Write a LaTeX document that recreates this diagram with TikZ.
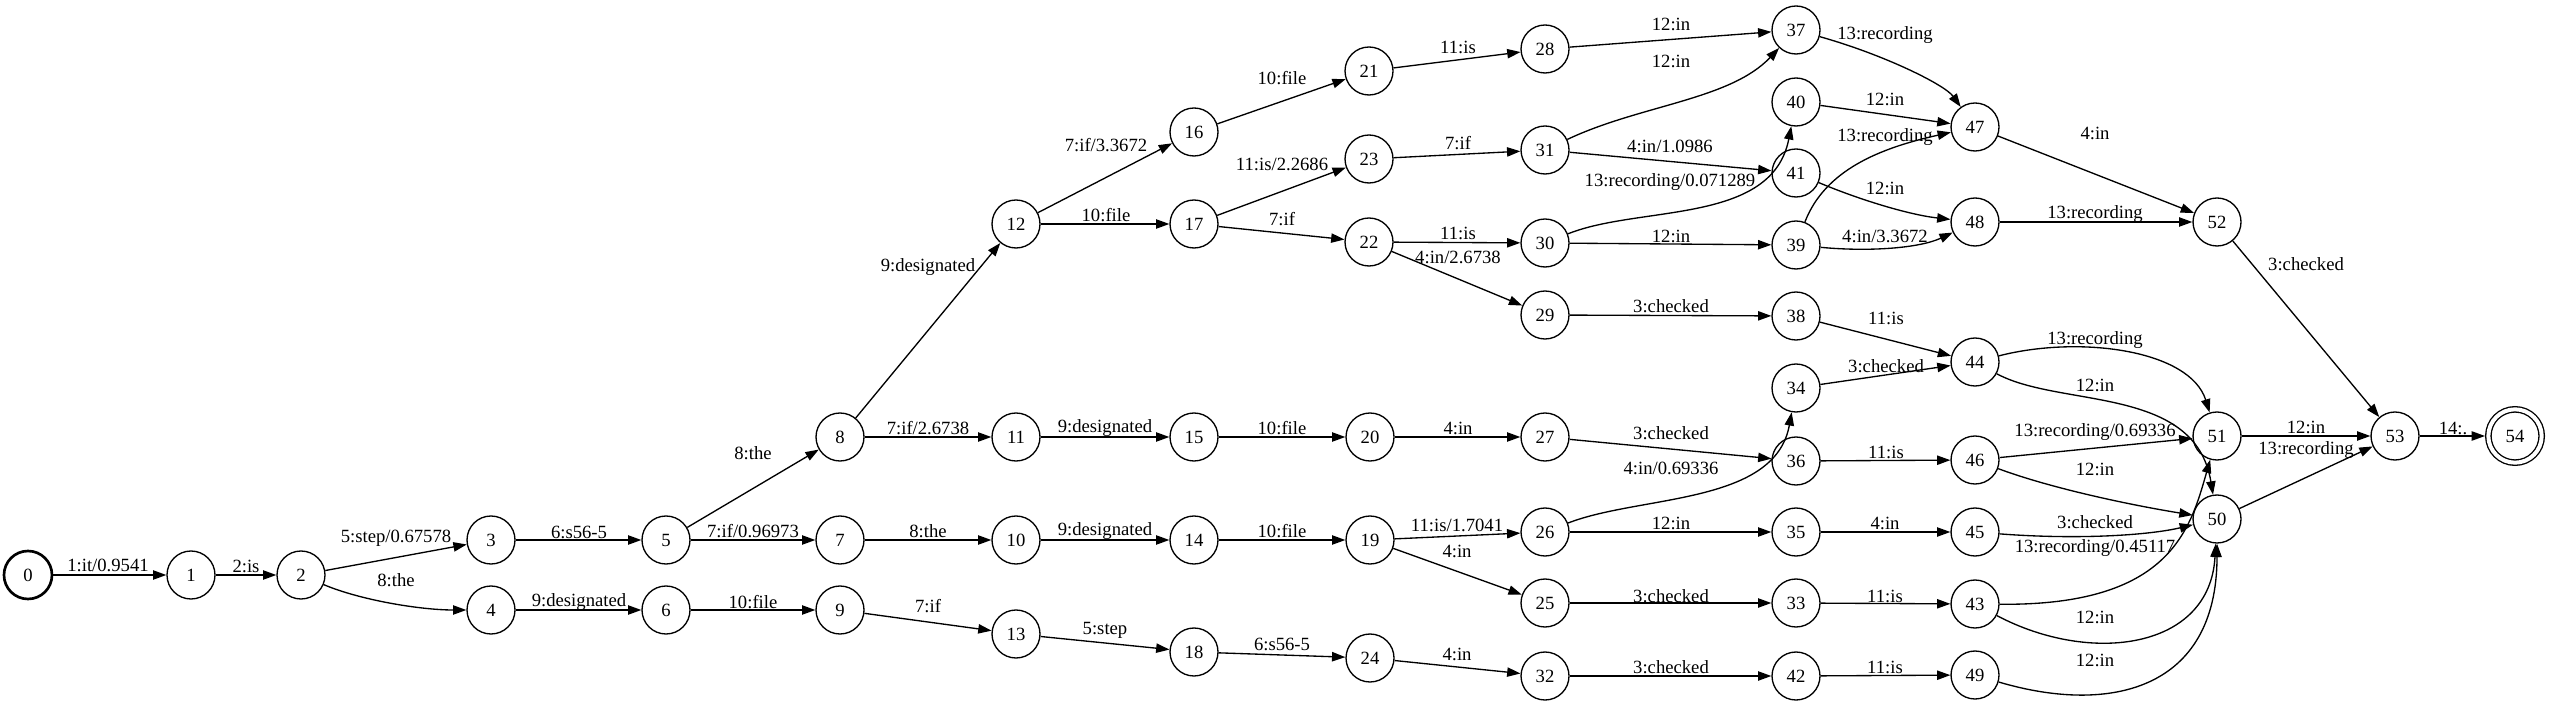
\documentclass[tikz,border=0pt]{standalone}
\usepackage{fontspec}
\setmainfont{Liberation Serif}
\usetikzlibrary{arrows.meta}

\begin{document}
\begin{tikzpicture}[x=0.75pt,y=-0.75pt,
  state/.style={circle,draw,line width=1pt,minimum size=36pt,inner sep=0pt,font=\fontsize{14}{16}\selectfont},
  firststate/.style={state,line width=2pt},
  laststate/.style={state,double,double distance=3pt,minimum size=40pt,outer sep=2.5pt},
  edge/.style={line width=1pt,-{Triangle[length=10pt,width=7pt]}},
  lbl/.style={inner sep=0pt,font=\fontsize{14}{16}\selectfont}]
  \useasboundingbox (0,0) rectangle (2550,705);
  % states
  \node[firststate] (s0) at (28,575) {0};
  \node[state] (s1) at (191,575) {1};
  \node[state] (s2) at (301,575) {2};
  \node[state] (s3) at (491,540) {3};
  \node[state] (s4) at (491,610) {4};
  \node[state] (s5) at (666,540) {5};
  \node[state] (s6) at (666,610) {6};
  \node[state] (s7) at (840,540) {7};
  \node[state] (s8) at (840,437) {8};
  \node[state] (s9) at (840,610) {9};
  \node[state] (s10) at (1016,540) {10};
  \node[state] (s11) at (1016,437) {11};
  \node[state] (s12) at (1016,224) {12};
  \node[state] (s13) at (1016,634) {13};
  \node[state] (s14) at (1194,540) {14};
  \node[state] (s15) at (1194,437) {15};
  \node[state] (s16) at (1194,132) {16};
  \node[state] (s17) at (1194,224) {17};
  \node[state] (s18) at (1194,652) {18};
  \node[state] (s19) at (1370,540) {19};
  \node[state] (s20) at (1370,437) {20};
  \node[state] (s21) at (1369,71) {21};
  \node[state] (s22) at (1369,242) {22};
  \node[state] (s23) at (1369,159) {23};
  \node[state] (s24) at (1370,658) {24};
  \node[state] (s25) at (1545,603) {25};
  \node[state] (s26) at (1545,532) {26};
  \node[state] (s27) at (1545,437) {27};
  \node[state] (s28) at (1545,49) {28};
  \node[state] (s29) at (1545,315) {29};
  \node[state] (s30) at (1545,243) {30};
  \node[state] (s31) at (1545,150) {31};
  \node[state] (s32) at (1545,676) {32};
  \node[state] (s33) at (1796,603) {33};
  \node[state] (s34) at (1796,388) {34};
  \node[state] (s35) at (1796,532) {35};
  \node[state] (s36) at (1796,461) {36};
  \node[state] (s37) at (1796,30) {37};
  \node[state] (s38) at (1796,316) {38};
  \node[state] (s39) at (1796,245) {39};
  \node[state] (s40) at (1796,102) {40};
  \node[state] (s41) at (1796,173) {41};
  \node[state] (s42) at (1796,676) {42};
  \node[state] (s43) at (1975,604) {43};
  \node[state] (s44) at (1975,362) {44};
  \node[state] (s45) at (1975,532) {45};
  \node[state] (s46) at (1975,460) {46};
  \node[state] (s47) at (1975,127) {47};
  \node[state] (s48) at (1975,222) {48};
  \node[state] (s49) at (1975,675) {49};
  \node[state] (s50) at (2217,519) {50};
  \node[state] (s51) at (2217,436) {51};
  \node[state] (s52) at (2217,222) {52};
  \node[state] (s53) at (2395,436) {53};
  \node[laststate] (s54) at (2515,436) {54};
  % arcs
  \draw[edge] (s0) -- (s1) node[lbl] (l0-1) at (108,565) {1:it/0.9541};
  \draw[edge] (s1) -- (s2) node[lbl] (l1-2) at (246,566) {2:is};
  \draw[edge] (s2) -- (s3) node[lbl] (l2-3) at (396,538) {5:step/0.67578};
  \draw[edge] (s2) .. controls (360,600) and (420,610) .. (s4) node[lbl] (l2-4) at (396,580) {8:the};
  \draw[edge] (s3) -- (s5) node[lbl] (l3-5) at (579,532) {6:s56-5};
  \draw[edge] (s4) -- (s6) node[lbl] (l4-6) at (579,602) {9:designated};
  \draw[edge] (s5) -- (s8) node[lbl] (l5-8) at (753,453) {8:the};
  \draw[edge] (s5) -- (s7) node[lbl] (l5-7) at (753,531) {7:if/0.96973};
  \draw[edge] (s6) -- (s9) node[lbl] (l6-9) at (753,602) {10:file};
  \draw[edge] (s7) -- (s10) node[lbl] (l7-10) at (928,531) {8:the};
  \draw[edge] (s8) -- (s12) node[lbl] (l8-12) at (928,267) {9:designated};
  \draw[edge] (s8) -- (s11) node[lbl] (l8-11) at (928,428) {7:if/2.6738};
  \draw[edge] (s9) -- (s13) node[lbl] (l9-13) at (928,606) {7:if};
  \draw[edge] (s10) -- (s14) node[lbl] (l10-14) at (1105,531) {9:designated};
  \draw[edge] (s11) -- (s15) node[lbl] (l11-15) at (1105,428) {9:designated};
  \draw[edge] (s12) -- (s16) node[lbl] (l12-16) at (1106,145) {7:if/3.3672};
  \draw[edge] (s12) -- (s17) node[lbl] (l12-17) at (1106,215) {10:file};
  \draw[edge] (s13) -- (s18) node[lbl] (l13-18) at (1105,630) {5:step};
  \draw[edge] (s14) -- (s19) node[lbl] (l14-19) at (1282,531) {10:file};
  \draw[edge] (s15) -- (s20) node[lbl] (l15-20) at (1282,428) {10:file};
  \draw[edge] (s16) -- (s21) node[lbl] (l16-21) at (1282,78) {10:file};
  \draw[edge] (s17) -- (s23) node[lbl] (l17-23) at (1282,164) {11:is/2.2686};
  \draw[edge] (s17) -- (s22) node[lbl] (l17-22) at (1282,219) {7:if};
  \draw[edge] (s18) -- (s24) node[lbl] (l18-24) at (1282,644) {6:s56-5};
  \draw[edge] (s19) -- (s26) node[lbl] (l19-26) at (1457,525) {11:is/1.7041};
  \draw[edge] (s19) -- (s25) node[lbl] (l19-25) at (1457,551) {4:in};
  \draw[edge] (s20) -- (s27) node[lbl] (l20-27) at (1458,428) {4:in};
  \draw[edge] (s21) -- (s28) node[lbl] (l21-28) at (1458,47) {11:is};
  \draw[edge] (s22) -- (s30) node[lbl] (l22-30) at (1458,233) {11:is};
  \draw[edge] (s22) -- (s29) node[lbl] (l22-29) at (1458,257) {4:in/2.6738};
  \draw[edge] (s23) -- (s31) node[lbl] (l23-31) at (1458,143) {7:if};
  \draw[edge] (s24) -- (s32) node[lbl] (l24-32) at (1457,654) {4:in};
  \draw[edge] (s25) -- (s33) node[lbl] (l25-33) at (1671,596) {3:checked};
  \draw[edge] (s26) .. controls (1640,495) and (1775,505) .. (s34) node[lbl] (l26-34) at (1671,468) {4:in/0.69336};
  \draw[edge] (s26) -- (s35) node[lbl] (l26-35) at (1671,523) {12:in};
  \draw[edge] (s27) -- (s36) node[lbl] (l27-36) at (1671,433) {3:checked};
  \draw[edge] (s28) -- (s37) node[lbl] (l28-37) at (1671,24) {12:in};
  \draw[edge] (s29) -- (s38) node[lbl] (l29-38) at (1671,306) {3:checked};
  \draw[edge] (s30) .. controls (1640,205) and (1772,225) .. (s40) node[lbl] (l30-40) at (1670,182) {13:recording/0.071289};
  \draw[edge] (s30) -- (s39) node[lbl] (l30-39) at (1671,236) {12:in};
  \draw[edge] (s31) .. controls (1640,105) and (1730,100) .. (s37) node[lbl] (l31-37) at (1671,61) {12:in};
  \draw[edge] (s31) -- (s41) node[lbl] (l31-41) at (1670,146) {4:in/1.0986};
  \draw[edge] (s32) -- (s42) node[lbl] (l32-42) at (1671,667) {3:checked};
  \draw[edge] (s33) -- (s43) node[lbl] (l33-43) at (1885,596) {11:is};
  \draw[edge] (s34) -- (s44) node[lbl] (l34-44) at (1886,366) {3:checked};
  \draw[edge] (s35) -- (s45) node[lbl] (l35-45) at (1885,523) {4:in};
  \draw[edge] (s36) -- (s46) node[lbl] (l36-46) at (1886,452) {11:is};
  \draw[edge] (s37) .. controls (1885,55) and (1945,85) .. (s47) node[lbl] (l37-47) at (1885,35) {13:recording};
  \draw[edge] (s38) -- (s44) node[lbl] (l38-44) at (1886,318) {11:is};
  \draw[edge] (s39) .. controls (1825,170) and (1880,148) .. (s47) node[lbl] (l39-47) at (1885,137) {13:recording};
  \draw[edge] (s39) .. controls (1870,252) and (1920,248) .. (s48) node[lbl] (l39-48) at (1885,236) {4:in/3.3672};
  \draw[edge] (s40) -- (s47) node[lbl] (l40-47) at (1885,99) {12:in};
  \draw[edge] (s41) .. controls (1860,200) and (1910,215) .. (s48) node[lbl] (l41-48) at (1885,188) {12:in};
  \draw[edge] (s42) -- (s49) node[lbl] (l42-49) at (1885,667) {11:is};
  \draw[edge] (s43) .. controls (2170,606) and (2190,530) .. (s51) node[lbl] (l43-51) at (2095,548) {13:recording/0.45117};
  \draw[edge] (s43) .. controls (2090,665) and (2210,650) .. (s50) node[lbl] (l43-50) at (2095,617) {12:in};
  \draw[edge] (s44) .. controls (2080,335) and (2190,350) .. (s51) node[lbl] (l44-51) at (2095,340) {13:recording};
  \draw[edge] (s44) .. controls (2060,408) and (2195,385) .. (s50) node[lbl] (l44-50) at (2095,385) {12:in};
  \draw[edge] (s45) .. controls (2080,540) and (2150,535) .. (s50) node[lbl] (l45-50) at (2095,522) {3:checked};
  \draw[edge] (s46) -- (s51) node[lbl] (l46-51) at (2095,432) {13:recording/0.69336};
  \draw[edge] (s46) .. controls (2050,488) and (2130,505) .. (s50) node[lbl] (l46-50) at (2095,469) {12:in};
  \draw[edge] (s47) -- (s52) node[lbl] (l47-52) at (2095,133) {4:in};
  \draw[edge] (s48) -- (s52) node[lbl] (l48-52) at (2095,214) {13:recording};
  \draw[edge] (s49) .. controls (2110,715) and (2217,690) .. (s50) node[lbl] (l49-50) at (2095,660) {12:in};
  \draw[edge] (s50) -- (s53) node[lbl] (l50-53) at (2306,450) {13:recording};
  \draw[edge] (s51) -- (s53) node[lbl] (l51-53) at (2306,427) {12:in};
  \draw[edge] (s52) -- (s53) node[lbl] (l52-53) at (2306,264) {3:checked};
  \draw[edge] (s53) -- (s54) node[lbl] (l53-54) at (2453,428) {14:.};
\end{tikzpicture}
\end{document}
